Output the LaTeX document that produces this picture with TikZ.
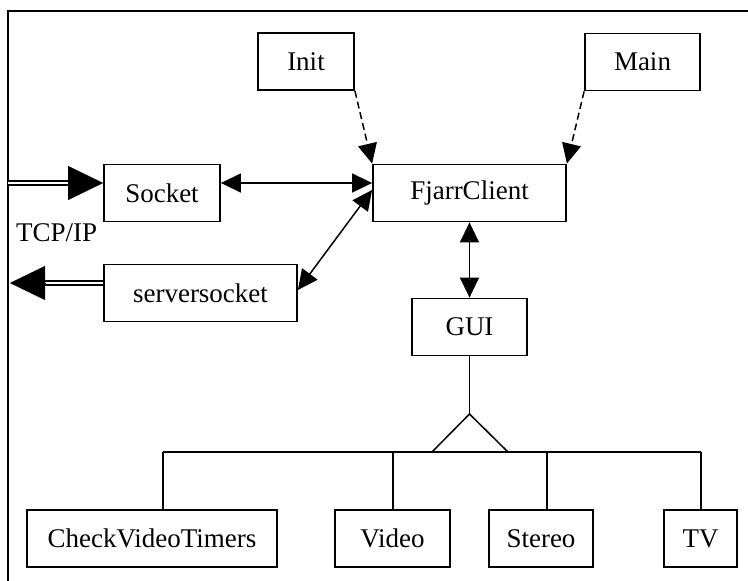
\documentclass[tikz,border=0pt]{standalone}
\usepackage{fontspec}
\setmainfont{Liberation Serif}
\usetikzlibrary{arrows.meta}
\begin{document}
\begin{tikzpicture}[x=1pt,y=-1pt,
  box/.style={draw, line width=1.8pt, inner sep=0pt, minimum height=57pt,
    font=\fontsize{27}{31}\selectfont},
  conn/.style={line width=1.5pt},
  smalltip/.style={-{Triangle[length=20pt,width=19pt]}},
  bothtips/.style={{Triangle[length=20pt,width=19pt]}-{Triangle[length=20pt,width=19pt]}},
  dashconn/.style={conn, dash pattern=on 7pt off 4pt, smalltip},
  dblline/.style={double, line width=1.5pt, double distance=2.5pt},
  bigtip/.style={line width=0.1pt, -{Triangle[length=35pt,width=34pt]}},
  label/.style={inner sep=0pt, font=\fontsize{27}{31}\selectfont}
]
\useasboundingbox (0,0) rectangle (748,581);

% outer frame (left and top edges)
\draw[line width=2pt] (8,581) -- (8,11) -- (748,11);

% classes
\node[box, minimum width=96pt]  (init)   at (306,61.5)  {Init};
\node[box, minimum width=115pt] (main)   at (642.5,62)  {Main};
\node[box, minimum width=193pt] (fjarr)  at (469.5,193) {FjarrClient};
\node[box, minimum width=116pt] (socket) at (162,193)   {Socket};
\node[box, minimum width=193pt] (server) at (200.5,293) {serversocket};
\node[box, minimum width=115pt] (gui)    at (469.5,327) {GUI};
\node[box, minimum width=250pt] (cvt)    at (152,538.5)   {CheckVideoTimers};
\node[box, minimum width=115pt] (video)  at (392.5,538.5) {Video};
\node[box, minimum width=104pt] (stereo) at (541,538.5)   {Stereo};
\node[box, minimum width=73pt]  (tv)     at (700.5,538.5) {TV};

\node[label, anchor=base west] (tcp) at (16,241) {TCP/IP};

% dependencies
\draw[dashconn] (init.south east) -- (fjarr.north west);
\draw[dashconn] (main.south west) -- (fjarr.north east);

% associations
\draw[conn, bothtips] ([yshift=10pt]socket.east) -- ([yshift=10pt]fjarr.west);
\draw[conn, bothtips] ([yshift=3pt]server.east) -- ([yshift=3pt]fjarr.west);
\draw[conn, bothtips] (fjarr.south) -- (gui.north);

% network links
\coordinate (netin)  at (8,183);
\coordinate (netout) at (10,283);
\coordinate (inbase)  at (69,183);
\coordinate (outbase) at (45,283);
\draw[dblline] (netin) -- (inbase);
\draw[bigtip] (inbase) -- ([yshift=10pt]socket.west);
\draw[dblline] ([yshift=10pt]server.west) -- (outbase);
\draw[bigtip] (outbase) -- (netout);

% generalisation
\coordinate (apex) at (469.5,414);
\coordinate (tl) at (432,452);
\coordinate (tr) at (508,452);
\draw[conn] (gui.south) -- (apex);
\draw[conn, line join=miter] (tl) -- (apex) -- (tr);
\coordinate (b1) at (163,452);
\coordinate (b2) at (393,452);
\coordinate (b3) at (547,452);
\coordinate (b4) at (701,452);
\draw[conn] (b1) -- (b4);
\draw[conn] (b1) -- (b1 |- cvt.north);
\draw[conn] (b2) -- (b2 |- video.north);
\draw[conn] (b3) -- (b3 |- stereo.north);
\draw[conn] (b4) -- (b4 |- tv.north);
\end{tikzpicture}
\end{document}
